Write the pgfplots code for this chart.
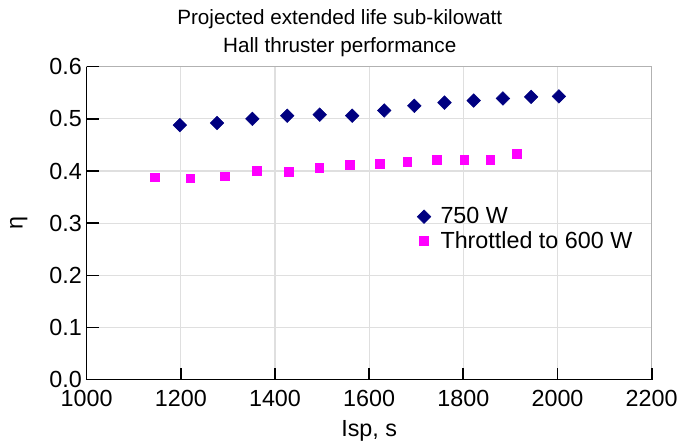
\documentclass[border=0pt]{standalone}
\usepackage{fontspec}
\setmainfont{Liberation Sans}
\usepackage{pgfplots}
\pgfplotsset{compat=1.18}

\definecolor{navyb}{RGB}{0,0,128}
\definecolor{pinkm}{RGB}{255,0,255}

\begin{document}
\begin{tikzpicture}
% page frame: 677x446 px at 0.75pt/px, axis box lower-left at origin
\useasboundingbox (-65pt,-49.5pt) rectangle (443pt,285pt);
\begin{axis}[
    scale only axis,
    width=424pt, height=235pt,
    at={(0,0)}, anchor=south west,
    xmin=1000, xmax=2200,
    ymin=0, ymax=0.6,
    xtick={1000,1200,...,2200},
    ytick={0,0.1,...,0.6},
    xtick pos=left, ytick pos=left,
    tick align=inside,
    axis line style={gray!60, line width=0.9pt},
    grid=major,
    grid style={gray!25, line width=0.8pt},
    major tick length=0pt,
    font=\fontsize{17.5}{21}\selectfont,
    tick label style={font=\fontsize{17.5}{21}\selectfont},
    xticklabel style={yshift=-4pt},
    /pgf/number format/assume math mode=true,
    /pgf/number format/1000 sep={},
    yticklabel style={/pgf/number format/fixed, /pgf/number format/fixed zerofill, /pgf/number format/precision=1},
    xlabel={Isp, s},
    xlabel style={at={(axis description cs:0.5,0)}, anchor=base, yshift=-42.75pt},
    ylabel={η},
    ylabel style={at={(axis description cs:-0.12,0.5)}, anchor=center},
    title={Projected extended life sub-kilowatt\\Hall thruster performance},
    title style={at={(axis description cs:0.448,1)}, anchor=south, align=center, inner sep=0pt, yshift=1pt, font=\fontsize{15.5}{21}\selectfont},
    legend style={draw=none, fill=none, at={(axis description cs:0.5776,0.568)}, anchor=north west,
        font=\fontsize{17.5}{19}\selectfont, row sep=0pt,
        /tikz/every odd column/.append style={column sep=5.25pt}},
    legend cell align=left,
    clip=false,
]
% black left/bottom axis lines and inward ticks (drawn over the grid)
\draw[black, line width=0.9pt] (rel axis cs:0,1) -- (rel axis cs:0,0) -- (rel axis cs:1,0);
\pgfplotsinvokeforeach{1200,1400,1600,1800,2000,2200}{
  \draw[black, line width=1.3pt] (axis cs:#1,0) -- ([yshift=9pt]axis cs:#1,0);
}
\pgfplotsinvokeforeach{0.1,0.2,0.3,0.4,0.5,0.6}{
  \draw[black, line width=1.3pt] (axis cs:1000,#1) -- ([xshift=9pt]axis cs:1000,#1);
}
\addplot[only marks, mark=square*, color=navyb, mark size=3.6pt, mark options={rotate=45}] coordinates {
    (1198,0.488) (1277,0.492) (1352,0.500) (1426,0.506) (1495,0.508) (1564,0.506) (1632,0.516)
    (1696,0.525) (1760,0.531) (1822,0.535) (1884,0.539) (1944,0.542) (2003,0.543)
};
\addlegendentry{750 W}
\addplot[only marks, mark=square*, color=pinkm, mark size=3.3pt] coordinates {
    (1145,0.388) (1220,0.386) (1294,0.390) (1362,0.400) (1430,0.399) (1494,0.406) (1559,0.412)
    (1622,0.414) (1681,0.418) (1743,0.421) (1802,0.421) (1857,0.421) (1913,0.433)
};
\addlegendentry{Throttled to 600 W}
\end{axis}
\end{tikzpicture}
\end{document}
